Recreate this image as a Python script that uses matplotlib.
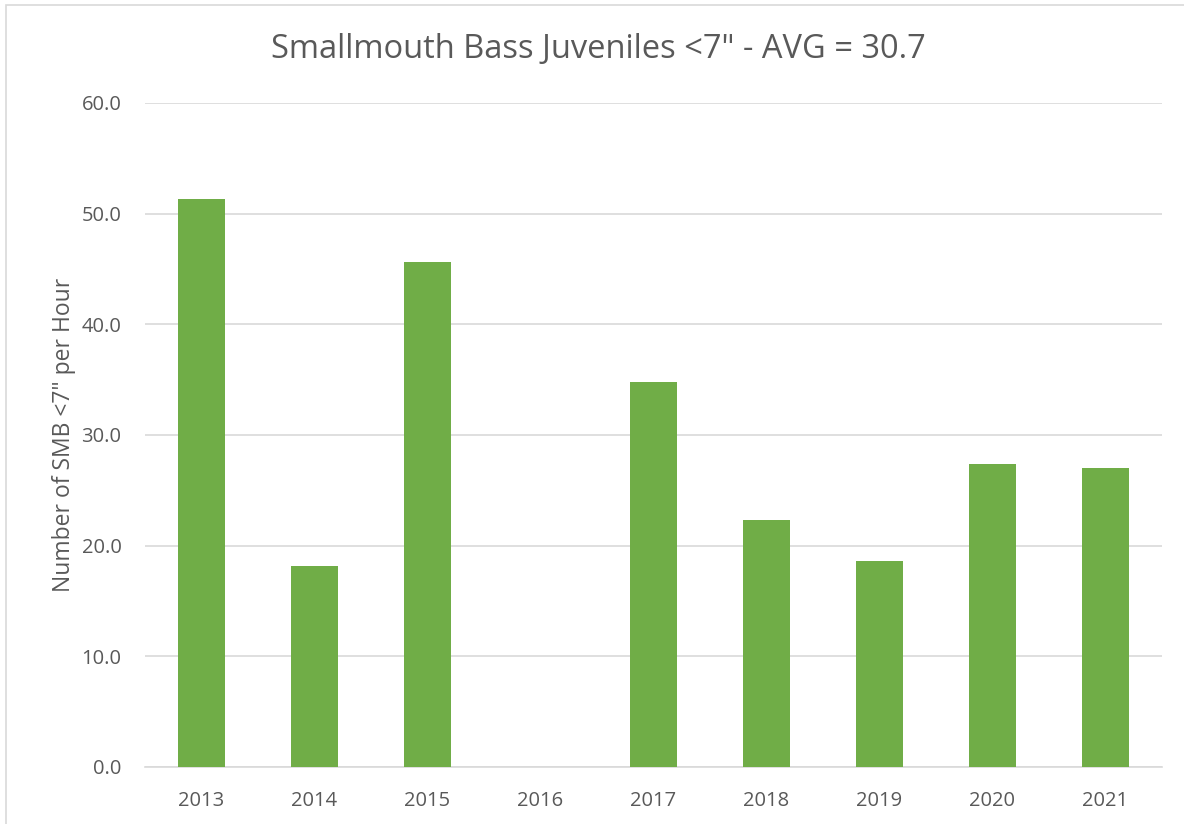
import matplotlib
matplotlib.use("Agg")
import matplotlib.pyplot as plt
from matplotlib.patches import Rectangle

years = ["2013", "2014", "2015", "2016", "2017", "2018", "2019", "2020", "2021"]
values = [51.3, 18.2, 45.6, 0.0, 34.8, 22.3, 18.6, 27.4, 27.0]
yticks = [0, 10, 20, 30, 40, 50, 60]

plt.rcParams['font.family'] = ['Open Sans', 'DejaVu Sans']
text_color = "#595959"

fig = plt.figure(figsize=(11.84, 8.24), dpi=100)
ax = fig.add_axes([145/1184, 57/824, 1017/1184, 664/824])

x = range(len(years))
ax.bar(x, values, width=0.42, color="#70AD47", zorder=3)

ax.set_xlim(-0.5, len(years) - 0.5)
ax.set_ylim(0, 60)
ax.set_yticks(yticks)
ax.set_yticklabels([f"{v:.1f}" for v in yticks])
ax.set_xticks(list(x))
ax.set_xticklabels(years)
ax.grid(axis="y", color="#D9D9D9", linewidth=1.2, zorder=0)
for s in ["top", "right", "left"]:
    ax.spines[s].set_visible(False)
ax.spines["bottom"].set_color("#D9D9D9")
ax.spines["bottom"].set_linewidth(1.2)
ax.tick_params(axis="both", length=0, labelsize=14.5, colors=text_color)
ax.tick_params(axis="y", pad=17)
ax.tick_params(axis="x", pad=17)

ax.set_ylabel('Number of SMB <7" per Hour', fontsize=16.5, color=text_color, labelpad=4)
fig.text(598/1184, 1 - 50/824, 'Smallmouth Bass Juveniles <7" - AVG = 30.7',
         ha="center", va="center", fontsize=23.5, color=text_color)

fig.patches.append(Rectangle((6/1184, -0.1), 1.2, 1 - 5/824 + 0.1, transform=fig.transFigure,
                             fill=False, edgecolor="#D9D9D9", linewidth=1.2))

fig.savefig("out.png", dpi=100)
